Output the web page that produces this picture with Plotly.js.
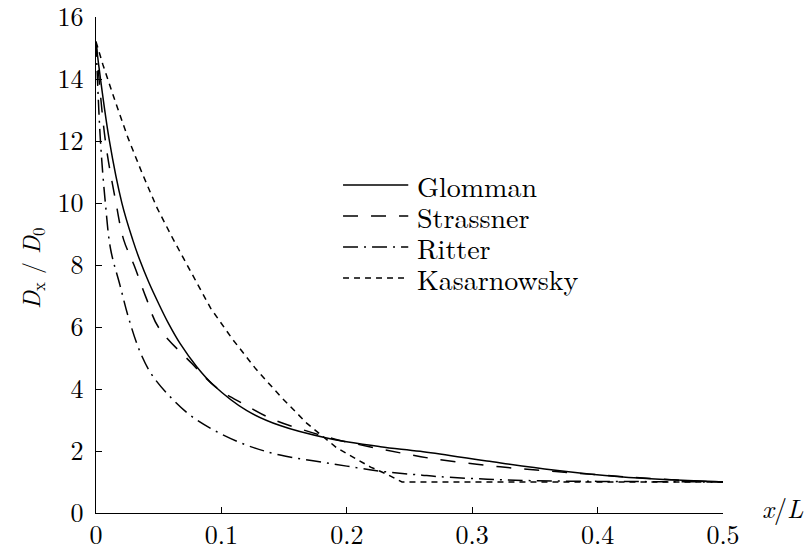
<!DOCTYPE html>
<html>
<head>
<meta charset="utf-8">
<script src="https://cdn.plot.ly/plotly-3.0.1.min.js"></script>
<style>
  html, body { margin: 0; padding: 0; background: #fff; }
  #chart { width: 808px; height: 545px; }
</style>
</head>
<body>
<div id="chart"></div>
<script>
// Relative diameter D_x/D_0 along the channel, four formulas
const seriesNames = ["Glomman", "Strassner", "Ritter", "Kasarnowsky"];

const xGlomman = [0, 0.002, 0.0106, 0.0207, 0.0293, 0.035, 0.042, 0.05, 0.058, 0.067, 0.0803, 0.0936, 0.12, 0.1468, 0.184, 0.2266, 0.2585, 0.3117, 0.3647, 0.418, 0.46, 0.5];
const yGlomman = [15.2, 14.5, 12.03, 9.99, 8.81, 8.15, 7.45, 6.75, 6.1, 5.47, 4.72, 4.13, 3.31, 2.82, 2.42, 2.14, 1.99, 1.68, 1.39, 1.17, 1.07, 1.0];

const xStrassner = [0, 0.0074, 0.016, 0.0221, 0.0303, 0.04, 0.0497, 0.0763, 0.0968, 0.1175, 0.141, 0.1654, 0.1907, 0.218, 0.244, 0.269, 0.3223, 0.3755, 0.4287, 0.479, 0.5];
const yStrassner = [15.2, 12.03, 9.99, 8.81, 8.0, 6.94, 6.0, 4.83, 4.02, 3.52, 3.02, 2.68, 2.38, 2.14, 1.93, 1.75, 1.49, 1.31, 1.15, 1.03, 1.0];

const xRitter = [0, 0.0035, 0.0075, 0.0117, 0.0191, 0.0263, 0.0351, 0.0447, 0.0596, 0.0755, 0.0936, 0.12, 0.1468, 0.1867, 0.2266, 0.26, 0.2745, 0.312, 0.35, 0.4, 0.45, 0.5];
const yRitter = [15.2, 12.03, 9.99, 8.5, 7.35, 6.25, 5.2, 4.45, 3.73, 3.14, 2.68, 2.19, 1.87, 1.6, 1.35, 1.22, 1.17, 1.09, 1.04, 1.02, 1.01, 1.0];

const xKasarnowsky = [0, 0.0056, 0.0154, 0.0255, 0.0367, 0.0487, 0.0614, 0.0768, 0.0915, 0.1088, 0.1274, 0.1476, 0.168, 0.192, 0.205, 0.219, 0.2326, 0.244, 0.5];
const yKasarnowsky = [15.2, 14.45, 13.27, 12.1, 10.97, 9.84, 8.84, 7.68, 6.6, 5.61, 4.65, 3.74, 2.9, 2.1, 1.81, 1.48, 1.24, 1.0, 1.0];

const xTickVals = [0, 0.1, 0.2, 0.3, 0.4, 0.5];
const xTickText = ["0", "0.1", "0.2", "0.3", "0.4", "0.5"];
const yTickVals = [0, 2, 4, 6, 8, 10, 12, 14, 16];
const yTickText = ["0", "2", "4", "6", "8", "10", "12", "14", "16"];

const FONT = "Latin Modern Roman, Liberation Serif, serif";
const dashes = ["solid", "15px,13px", "15px,6px,2px,6px", "6px,5px"];

const xs = [xGlomman, xStrassner, xRitter, xKasarnowsky];
const ys = [yGlomman, yStrassner, yRitter, yKasarnowsky];

const traces = seriesNames.map((name, i) => ({
  type: "scatter",
  mode: "lines",
  name: name,
  x: xs[i],
  y: ys[i],
  line: { color: "#000", width: 1.5, dash: dashes[i], shape: i === 3 ? "linear" : "spline", smoothing: 1 },
  hoverinfo: "skip",
  showlegend: false
}));

// Hand-drawn key inside the plot area: sample line + label per series
const keyX0 = 0.197, keyX1 = 0.249, keyTextX = 0.2545;
const keyTopY = 10.58, keyStep = 1.0;
const shapes = seriesNames.map((name, i) => ({
  type: "line", xref: "x", yref: "y",
  x0: keyX0, x1: keyX1, y0: keyTopY - i * keyStep, y1: keyTopY - i * keyStep,
  line: { color: "#000", width: 1.5, dash: dashes[i] }
}));
const annotations = seriesNames.map((name, i) => ({
  xref: "x", yref: "y", x: keyTextX, y: keyTopY - i * keyStep,
  text: name, showarrow: false, xanchor: "left", yanchor: "middle",
  font: { family: FONT, size: 28, color: "#000" }
}));
annotations.push({
  xref: "paper", yref: "paper", x: -0.102, y: 0.494,
  text: "<i>D</i><sub>x</sub> / <i>D</i><sub>0</sub>", textangle: -90,
  showarrow: false, xanchor: "center", yanchor: "middle",
  font: { family: FONT, size: 24, color: "#000" }
});
annotations.push({
  xref: "paper", yref: "paper", x: 1.095, y: 0.012,
  text: "<i>x</i>/<i>L</i>", showarrow: false, xanchor: "center", yanchor: "middle",
  font: { family: FONT, size: 26, color: "#000" }
});

const axisCommon = {
  showgrid: false, zeroline: false, showline: true, linecolor: "#000", linewidth: 1.3,
  ticks: "inside", ticklen: 6, tickwidth: 1, tickcolor: "#000",
  ticklabeloverflow: "allow",
  tickfont: { family: FONT, size: 26, color: "#000" }, mirror: false, fixedrange: true
};

const layout = {
  width: 808, height: 545,
  margin: { l: 96, r: 85, t: 17, b: 32, pad: 0 },
  paper_bgcolor: "#fff", plot_bgcolor: "#fff",
  showlegend: false,
  font: { family: FONT, color: "#000" },
  xaxis: Object.assign({}, axisCommon, {
    range: [0, 0.5], tickmode: "array", tickvals: xTickVals, ticktext: xTickText,
    ticklabelstandoff: -2
  }),
  yaxis: Object.assign({}, axisCommon, {
    range: [0, 16], tickmode: "array", tickvals: yTickVals, ticktext: yTickText,
    ticklabelstandoff: 6
  }),
  shapes: shapes,
  annotations: annotations
};

Plotly.newPlot("chart", traces, layout, { displayModeBar: false, staticPlot: true });
</script>
</body>
</html>
